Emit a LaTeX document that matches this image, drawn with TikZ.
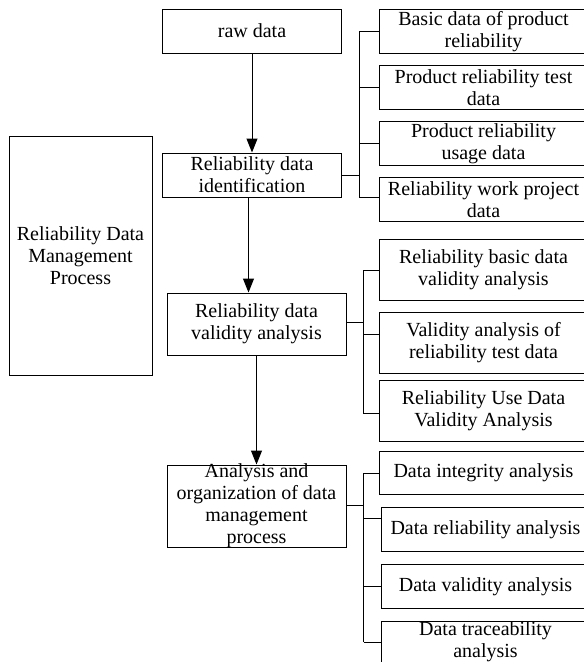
\documentclass[tikz,border=0pt]{standalone}
\usepackage{fontspec}
\setmainfont{Liberation Serif}
\usetikzlibrary{positioning,arrows.meta}

\begin{document}
\begin{tikzpicture}[
    x=1pt, y=-1pt,
    node distance=11pt,
    every node/.style={font=\fontsize{20}{22}\selectfont},
    stage/.style={rectangle, draw, line width=1pt, minimum width=179pt, minimum height=44pt, inner sep=0pt, align=center},
    item/.style={rectangle, draw, line width=1pt, minimum width=208pt, minimum height=44pt, inner sep=0pt, align=center},
    flow/.style={line width=1pt, -{Triangle[length=14pt,width=11pt]}},
    link/.style={line width=1pt}
]
    \useasboundingbox (0,0) rectangle (584,662);

    % main column
    \node[stage] (raw) at (252,31) {raw data};
    \node[stage] (ident) at (252,175) {Reliability data\\identification};
    \node[stage, minimum height=62pt] (valid) at (256.5,324) {Reliability data\\validity analysis};
    \node[stage, minimum height=82pt] (organ) at (256.5,506) {};
    \node[align=center] (organtext) at (organ.center) {Analysis and\\organization of data\\management\\process};
    \node[stage, minimum width=143pt, minimum height=239pt] (proc) at (80.5,255.5) {Reliability Data\\Management\\Process};

    % identification sources
    \node[item, anchor=north west] (basic) at (379,9) {Basic data of product\\reliability};
    \node[item, below=of basic] (test) {Product reliability test\\data};
    \node[item, below=of test] (usage) {Product reliability\\usage data};
    \node[item, below=of usage] (work) {Reliability work project\\data};

    % validity checks
    \node[item, anchor=north west, minimum height=61pt] (vbasic) at (379,239) {Reliability basic data\\validity analysis};
    \node[item, below=of vbasic, minimum height=61pt] (vtest) {Validity analysis of\\reliability test data};
    \node[item, below=6pt of vtest, minimum height=61pt] (vuse) {Reliability Use Data\\Validity Analysis};

    % organization checks
    \node[item, anchor=north west, minimum height=43pt] (integ) at (379,451) {Data integrity analysis};
    \node[item, below=12pt of integ, xshift=2pt] (relia) {Data reliability analysis};
    \node[item, below=12pt of relia] (dvalid) {Data validity analysis};
    \node[item, below=12pt of dvalid, minimum height=41pt] (trace) {Data traceability\\analysis};

    \draw[flow] (raw) -- (ident);
    \draw[flow] ([xshift=-3.5pt]ident.south) -- ([xshift=-3.5pt]ident.south |- valid.north);
    \draw[flow] (valid) -- (organ);

    % brackets
    \coordinate (idbar) at ([xshift=17pt]ident.east);
    \draw[link] (ident.east) -- (idbar);
    \draw[link] (idbar |- basic.west) -- ([yshift=2pt]work.west -| idbar);
    \foreach \n/\dy in {basic/0,test/0,usage/0,work/2}
        \draw[link] ([yshift=\dy pt]\n.west -| idbar) -- ([yshift=\dy pt]\n.west);

    \coordinate (valbar) at ([xshift=17pt, yshift=2pt]valid.east);
    \draw[link] ([yshift=2pt]valid.east) -- (valbar);
    \draw[link] (valbar |- vbasic.west) -- ([yshift=-2.5pt]vuse.west -| valbar);
    \foreach \n/\dy in {vbasic/0,vtest/9,vuse/-2.5}
        \draw[link] ([yshift=\dy pt]\n.west -| valbar) -- ([yshift=\dy pt]\n.west);

    \coordinate (orgbar) at ([xshift=17pt, yshift=1pt]organ.east);
    \draw[link] ([yshift=1pt]organ.east) -- (orgbar);
    \draw[link] (orgbar |- integ.west) -- (orgbar |- trace.west);
    \foreach \n/\dy in {integ/0,relia/11,dvalid/0,trace/0}
        \draw[link] ([yshift=\dy pt]\n.west -| orgbar) -- ([yshift=\dy pt]\n.west);
\end{tikzpicture}
\end{document}
